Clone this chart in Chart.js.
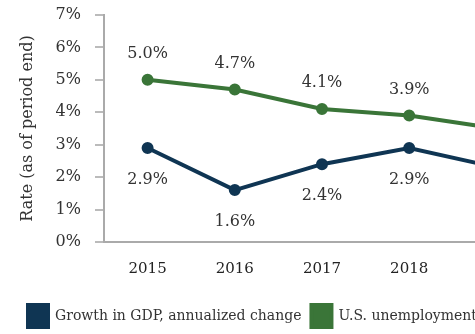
<!DOCTYPE html>
<html>
<head>
<meta charset="utf-8">
<script src="https://cdn.jsdelivr.net/npm/chart.js@4"></script>
<style>
  html, body { margin: 0; padding: 0; background: #fff; overflow: hidden; }
  #wrap { width: 475px; height: 334px; overflow: hidden; }
</style>
</head>
<body>
<div id="wrap"><canvas id="rateChart" width="560" height="334"></canvas></div>
<script>
// years on the x axis (the picture is cut on the right, 2019 barely shows)
let years = ['2015', '2016', '2017', '2018', '2019'];

// growth in GDP, annualized change (%)
let gdpGrowth = [2.9, 1.6, 2.4, 2.9, 2.3];

// U.S. unemployment rate (%)
let unemployment = [5.0, 4.7, 4.1, 3.9, 3.5];

let navy = '#0f3553';
let green = '#3a7538';
let serif = "'DejaVu Serif', serif";

// writes the value above / below each point
let pointLabels = {
    id: 'pointLabels',
    afterDatasetsDraw(chart) {
        let ctx = chart.ctx;
        ctx.save();
        ctx.font = '16px ' + serif;
        ctx.fillStyle = '#333';
        ctx.textAlign = 'center';
        ctx.textBaseline = 'middle';
        chart.data.datasets.forEach((ds, i) => {
            let meta = chart.getDatasetMeta(i);
            meta.data.forEach((pt, j) => {
                let dy = ds.labelAbove ? -26 : 32;
                ctx.fillText(ds.data[j].toFixed(1) + '%', pt.x, pt.y + dy);
            });
        });
        ctx.restore();
    }
};

let ctx = document.getElementById('rateChart').getContext('2d');
let chart = new Chart(ctx, {
    type: 'line',
    data: {
        labels: years,
        datasets: [{
            label: 'Growth in GDP, annualized change',
            data: gdpGrowth,
            borderColor: navy,
            backgroundColor: navy,
            borderWidth: 4,
            pointRadius: 4,
            labelAbove: false,
        }, {
            label: 'U.S. unemployment rate',
            data: unemployment,
            borderColor: green,
            backgroundColor: green,
            borderWidth: 4,
            pointRadius: 4,
            labelAbove: true,
        }]
    },
    options: {
        responsive: false,
        animation: false,
        layout: {
            padding: { left: 18, right: 20, top: 15, bottom: -3 }
        },
        plugins: {
            legend: {
                position: 'bottom',
                align: 'start',
                labels: {
                    boxWidth: 20,
                    boxHeight: 22,
                    padding: 10,
                    color: '#333',
                    font: { family: serif, size: 14 }
                }
            },
            tooltip: { enabled: false },
        },
        scales: {
            x: {
                offset: true,
                afterFit(scale) { scale.height = 53; },
                grid: { display: false },
                border: { display: true, color: '#aaa', width: 2 },
                ticks: {
                    color: '#222',
                    padding: 10,
                    font: { family: serif, size: 15 }
                }
            },
            y: {
                min: 0,
                max: 7,
                afterFit(scale) {
                    scale.width = 86;
                    scale.paddingTop = 0;
                    scale.paddingBottom = 0;
                },
                grid: { drawOnChartArea: false, drawTicks: true, tickLength: 9, color: '#bbb', lineWidth: 2 },
                border: { display: true, color: '#aaa', width: 2 },
                ticks: {
                    stepSize: 1,
                    padding: 14,
                    color: '#333',
                    font: { family: serif, size: 16 },
                    callback: (v) => v + '%'
                },
                title: {
                    display: true,
                    text: 'Rate (as of period end)',
                    color: '#333',
                    padding: { top: 0, bottom: 0 },
                    font: { family: serif, size: 16 }
                }
            }
        }
    },
    plugins: [pointLabels]
});
</script>
</body>
</html>
